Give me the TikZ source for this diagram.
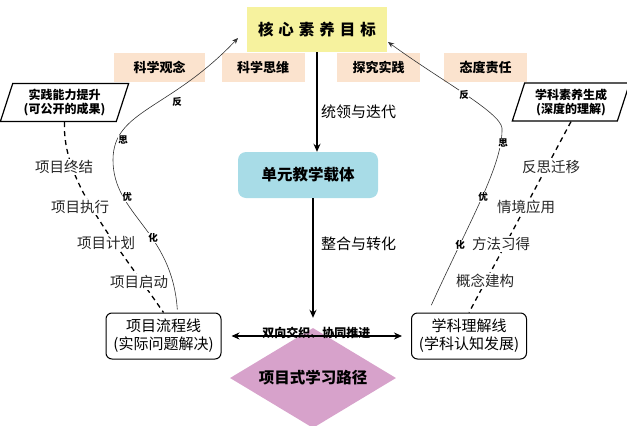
\documentclass[tikz,border=0pt]{standalone}
\usepackage{fontspec}
\setmainfont{Noto Sans CJK SC}
\usetikzlibrary{arrows.meta,shapes.geometric}
\definecolor{coreyellow}{RGB}{246,242,158}
\definecolor{facetpeach}{RGB}{251,227,206}
\definecolor{unitblue}{RGB}{168,220,231}
\definecolor{pathpink}{RGB}{215,162,203}

\begin{document}
\begin{tikzpicture}[x=1pt,y=-1pt,
	facet/.style={fill=facetpeach, minimum width=83pt, minimum height=29pt, font=\fontsize{13}{15}\selectfont\bfseries},
	track/.style={draw, rounded corners=6pt, line width=1pt, minimum width=115pt, minimum height=46pt, align=center, inner sep=2pt, font=\fontsize{15}{18}\selectfont},
	outcome/.style={draw, trapezium, trapezium left angle=72, trapezium right angle=108, line width=1.2pt, align=center, inner xsep=5pt, minimum height=38pt, font=\fontsize{12}{14}\selectfont\bfseries},
	stage/.style={fill=white, inner sep=1pt, text=black!85, font=\fontsize{14.5}{16}\selectfont},
	loopword/.style={fill=white, inner sep=0.5pt, font=\fontsize{9.5}{10}\selectfont\bfseries},
	mainarrow/.style={line width=1.4pt, -{Stealth[length=8pt,width=7pt]}},
	stagedash/.style={line width=1.3pt, dash pattern=on 5pt off 4pt},
	loopline/.style={line width=0.6pt, black!80, -{Stealth[length=6pt,width=5pt]}}]
	\useasboundingbox (0,0) rectangle (627,426);
	
	\node[fill=coreyellow, minimum width=140pt, minimum height=45pt, font=\fontsize{15.5}{18}\selectfont\bfseries] (core) at (317,29.5) {核\hspace{5pt}心\hspace{5pt}素\hspace{5pt}养\hspace{5pt}目\hspace{5pt}标};
	\node[facet, minimum width=91pt] (f1) at (159.5,67.5) {科学观念};
	\node[facet] (f2) at (263,67.5) {科学思维};
	\node[facet] (f3) at (378.5,67.5) {探究实践};
	\node[facet] (f4) at (485.5,67.5) {态度责任};
	
	\node[fill=unitblue, rounded corners=8pt, minimum width=140pt, minimum height=46pt, font=\fontsize{15.5}{18}\selectfont\bfseries] (unit) at (308,175) {单元教学载体};
	\node[diamond, aspect=1.66, fill=pathpink, inner sep=0pt, minimum width=166pt, minimum height=100pt, font=\fontsize{15.5}{18}\selectfont\bfseries] (route) at (313,378) {项目式学习路径};
	
	\node[track] (lb) at (163.5,336) {项目流程线\\(实际问题解决)};
	\node[track] (rb) at (469,336) {学科理解线\\(学科认知发展)};
	\node[outcome] (pl) at (64.5,102.5) {实践能力提升\\(可公开的成果)};
	\node[outcome] (pr) at (571,102) {学科素养生成\\(深度的理解)};
	
	\draw[mainarrow] (core.south) -- node[pos=0.6, right, font=\fontsize{15}{18}\selectfont] {统领与迭代} (core.south |- unit.north);
	\draw[mainarrow] ([xshift=5pt]unit.south) -- node[pos=0.38, right, xshift=4pt, font=\fontsize{15}{18}\selectfont] {整合与转化} ([yshift=10pt]route.north);
	\draw[line width=1.3pt, {Stealth[length=8pt,width=7pt]}-{Stealth[length=8pt,width=7pt]}, shorten <=10pt, shorten >=9pt] (lb) -- node[yshift=3pt, font=\fontsize{12}{13}\selectfont\bfseries] {双向交织、协同推进} (rb);
	
	% project stages
	\draw[stagedash] (pl.south) .. controls (62,180) and (110,235) .. (lb.north);
	\node[stage] (t1) at (64,167) {项目终结};
	\node[stage] (t2) at (80,207) {项目执行};
	\node[stage] (t3) at (106,243) {项目计划};
	\node[stage] (t4) at (139,282) {项目启动};
	
	% subject stages
	\draw[stagedash] (pr.south) -- (rb.north);
	\node[stage] (r1) at (551,167) {反思迁移};
	\node[stage] (r2) at (526,207) {情境应用};
	\node[stage] (r3) at (501,244) {方法习得};
	\node[stage] (r4) at (485,281) {概念建构};
	
	% reflection loops
	\coordinate (tipl) at (238,38);
	\coordinate (tipr) at (388,42);
	\draw[loopline, shorten <=3pt] ([xshift=14pt]lb.north) .. controls (172,230) and (113,215) .. (113,160) .. controls (113,110) and (170,110) .. (tipl);
	\draw[loopline, shorten <=8pt] ([xshift=-41pt]rb.north) .. controls (470,220) and (503,165) .. (502,128) .. controls (500,112) and (440,80) .. (tipr);
	\node[loopword] (l1) at (177,102) {反};
	\node[loopword] (l2) at (123,140) {思};
	\node[loopword] (l3) at (127,197) {优};
	\node[loopword] (l4) at (153,238) {化};
	\node[loopword] (q1) at (464,95) {反};
	\node[loopword] (q2) at (503,143) {思};
	\node[loopword] (q3) at (483,197) {优};
	\node[loopword] (q4) at (460,245) {化};
	
\end{tikzpicture}
\end{document}
